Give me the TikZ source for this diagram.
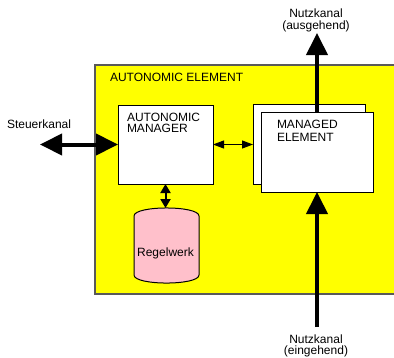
\documentclass[tikz,border=0pt]{standalone}
\usepackage{fontspec}
\setmainfont{Liberation Sans}
\usetikzlibrary{arrows.meta}
\definecolor{aeyellow}{RGB}{255,255,0}
\definecolor{rwpink}{RGB}{255,192,203}
\begin{document}
\begin{tikzpicture}[x=1pt,y=-1pt,
  lbl/.style={inner sep=0pt,outer sep=0pt,font=\fontsize{12}{12}\selectfont},
  whitebox/.style={draw=black,line width=1pt,fill=white,inner sep=0pt,outer sep=0pt,anchor=north west},
  bigarrow/.style={line width=4pt,-{Triangle[length=22pt,width=21pt]}},
  bigdouble/.style={line width=4pt,{Triangle[length=22pt,width=21pt]}-{Triangle[length=22pt,width=21pt]}},
  midarrow/.style={line width=2pt,{Triangle[length=9pt,width=10pt]}-{Triangle[length=9pt,width=10pt]}},
  thinarrow/.style={line width=1pt,{Triangle[length=11pt,width=8pt]}-{Triangle[length=11pt,width=8pt]}}]
  \useasboundingbox (0,0) rectangle (394,357);
  \fill[white] (0,0) rectangle (394,357);

  % autonomic element frame (open to the right edge)
  \fill[aeyellow] (95,65) rectangle (394,294);
  \draw[black!65,line width=1.2pt] (394,65) -- (95,65) -- (95,294) -- (394,294);
  \node[lbl,anchor=base west] (aetxt) at (110,81) {AUTONOMIC ELEMENT};

  % autonomic manager
  \node[whitebox,minimum width=95,minimum height=79] (am) at (118,105) {};
  \node[lbl,anchor=base west] (amtxt1) at (127,121) {AUTONOMIC};
  \node[lbl,anchor=base west] (amtxt2) at (127,132.5) {MANAGER};

  % managed element (stacked)
  \node[whitebox,minimum width=112,minimum height=80] (meback) at (253,104) {};
  \node[whitebox,minimum width=112,minimum height=80] (me) at (261,112) {};
  \node[lbl,anchor=base west] (metxt1) at (277,128.5) {MANAGED};
  \node[lbl,anchor=base west] (metxt2) at (277,141) {ELEMENT};

  % rule base cylinder
  \draw[line width=1pt,fill=rwpink]
    (134,216) .. controls (134,205.3) and (199,205.3) .. (199,216)
    -- (199,275) .. controls (199,285.7) and (134,285.7) .. (134,275) -- cycle;
  \coordinate (rwtop) at (166.5,208);
  \node[lbl,anchor=base] (rwtxt) at (165.5,256) {Regelwerk};

  % channels
  \coordinate (outtip) at (317,33);
  \coordinate (intail) at (317,327);
  \coordinate (sktip) at (40,144.5);
  \draw[bigarrow] (me.north) -- (outtip);
  \draw[bigarrow] (intail) -- (me.south);
  \draw[bigdouble] (sktip) -- (am.west);
  \draw[thinarrow] (am.east) -- (am.east -| meback.west);
  \draw[midarrow] (am.south) -- (am.south |- rwtop);

  \node[lbl,anchor=base west] (sktxt) at (7,128) {Steuerkanal};
  \node[lbl,anchor=base] (outtxt1) at (316,17) {Nutzkanal};
  \node[lbl,anchor=base] (outtxt2) at (316,29) {(ausgehend)};
  \node[lbl,anchor=base] (intxt1) at (316,343.5) {Nutzkanal};
  \node[lbl,anchor=base] (intxt2) at (316,354.5) {(eingehend)};
\end{tikzpicture}
\end{document}
